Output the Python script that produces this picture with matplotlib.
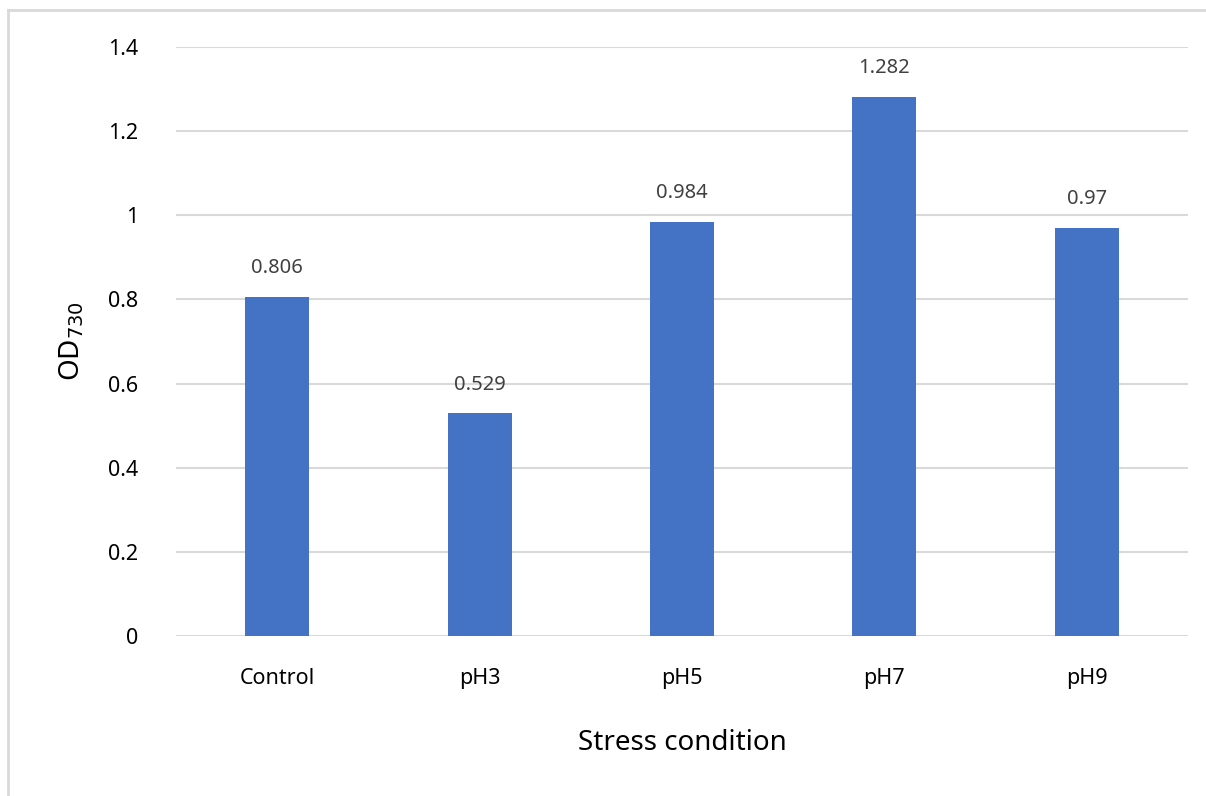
import matplotlib
matplotlib.use("Agg")
import matplotlib.pyplot as plt
from matplotlib.lines import Line2D

conditions = ["Control", "pH3", "pH5", "pH7", "pH9"]
od730 = [0.806, 0.529, 0.984, 1.282, 0.97]
od_labels = ["0.806", "0.529", "0.984", "1.282", "0.97"]
y_ticks = [0, 0.2, 0.4, 0.6, 0.8, 1.0, 1.2, 1.4]
y_tick_labels = ["0", "0.2", "0.4", "0.6", "0.8", "1", "1.2", "1.4"]

plt.rcParams["font.family"] = ["Noto Sans", "DejaVu Sans"]

fig = plt.figure(figsize=(12.06, 7.96), dpi=100)
ax = fig.add_axes([0.1459, 0.2010, 0.8392, 0.7400])

x = range(len(conditions))
bars = ax.bar(x, od730, width=0.316, color="#4472C4", zorder=3)

# value labels above each bar
for rect, lab in zip(bars, od_labels):
    ax.annotate(lab, (rect.get_x() + rect.get_width() / 2, rect.get_height()),
                xytext=(0, 17), textcoords="offset points",
                ha="center", va="baseline", fontsize=14.5, color="#404040")

ax.set_xlim(-0.5, len(conditions) - 0.5)
ax.set_ylim(0, 1.4)
ax.set_yticks(y_ticks)
ax.set_yticklabels(y_tick_labels)
ax.set_xticks(list(x))
ax.set_xticklabels(conditions)
ax.tick_params(axis="both", length=0, labelsize=15.5, colors="black")
ax.tick_params(axis="y", pad=27)
ax.tick_params(axis="x", pad=23)

ax.yaxis.grid(True, color="#d9d9d9", linewidth=1.5, zorder=0)
for s in ax.spines.values():
    s.set_visible(False)

ax.set_xlabel("Stress condition", fontsize=20, labelpad=29)
ax.set_ylabel("OD$_{730}$", fontsize=20, labelpad=16)

# outer chart border (only left and top edges fall inside the image)
fig.add_artist(Line2D([8 / 1206, 8 / 1206], [0, 1 - 10 / 796],
                      transform=fig.transFigure, color="#d9d9d9", linewidth=2))
fig.add_artist(Line2D([8 / 1206, 1], [1 - 10 / 796, 1 - 10 / 796],
                      transform=fig.transFigure, color="#d9d9d9", linewidth=2))

fig.savefig("out.png", dpi=100)
